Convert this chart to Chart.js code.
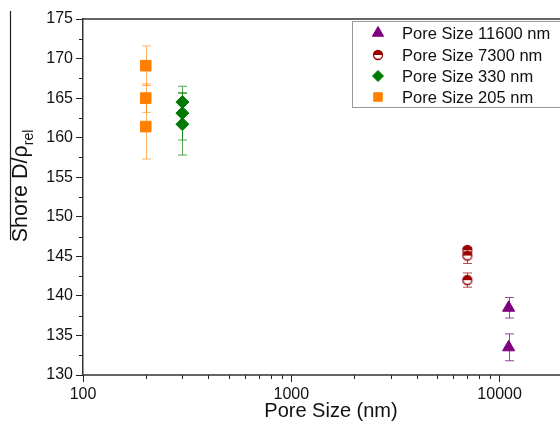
<!DOCTYPE html>
<html lang="en">
<head>
<meta charset="UTF-8">
<title>Shore D vs pore size</title>
<script src="https://cdn.jsdelivr.net/npm/chart.js@4.4.1/dist/chart.umd.min.js"></script>
<style>
  body { margin: 0; background: #fff; }
  #wrap { width: 560px; height: 432px; }
</style>
</head>
<body>
<div id="wrap"><canvas id="main_chart" width="560" height="432"></canvas></div>
<script>
    // data (x = where the marker sits on the log axis)
    const seriesLabels = ['Pore Size 11600 nm', 'Pore Size 7300 nm', 'Pore Size 330 nm', 'Pore Size 205 nm'];
    const x11600 = [11050, 11050];
    const y11600 = [138.5, 133.5];
    const e11600 = [1.3, 1.7];
    const x7300 = [7000, 7000, 7000];
    const y7300 = [145.8, 145.1, 142.0];
    const e7300 = [0.3, 1.0, 0.9];
    const x330 = [300, 300, 300];
    const y330 = [164.5, 163.1, 161.7];
    const e330 = [1.2, 3.4, 3.9];
    const x205 = [200, 200, 200];
    const y205 = [169.1, 165.0, 161.4];
    const e205 = [2.5, 1.8, 4.1];
    const xMajorTicks = [100, 1000, 10000];
    const xMinorTicks = [200, 300, 400, 500, 600, 700, 800, 900, 2000, 3000, 4000, 5000, 6000, 7000, 8000, 9000];
    const yMinorTicks = [132.5, 137.5, 142.5, 147.5, 152.5, 157.5, 162.5, 167.5, 172.5];

    const FONT = '"Liberation Sans", Arial, sans-serif';
    const TEXT = '#111';

    function halfCircle(r, color) {
        const c = document.createElement('canvas');
        const s = Math.ceil(r * 2 + 3);
        c.width = c.height = s;
        const g = c.getContext('2d');
        const m = s / 2;
        g.fillStyle = '#fff';
        g.beginPath(); g.arc(m, m, r, 0, Math.PI * 2); g.fill();
        g.fillStyle = color;
        g.beginPath(); g.arc(m, m, r, Math.PI, 0); g.closePath(); g.fill();
        g.strokeStyle = color; g.lineWidth = 1.3;
        g.beginPath(); g.arc(m, m, r, 0, Math.PI * 2); g.stroke();
        return c;
    }

    function pts(xs, ys, es) {
        return xs.map((x, i) => ({x: x, y: ys[i], e: es[i]}));
    }

    const datasets = [
        {label: seriesLabels[0], data: pts(x11600, y11600, e11600), pointStyle: 'triangle', pointRadius: 7,
            backgroundColor: '#800080', borderColor: '#800080', errColor: 'rgba(128,0,128,0.75)'},
        {label: seriesLabels[1], data: pts(x7300, y7300, e7300), pointStyle: halfCircle(4.5, '#990000'), pointRadius: 5,
            backgroundColor: '#990000', borderColor: '#990000', errColor: 'rgba(153,0,0,0.7)'},
        {label: seriesLabels[2], data: pts(x330, y330, e330), pointStyle: 'rectRot', pointRadius: 6.5,
            backgroundColor: '#007a00', borderColor: '#007a00', errColor: 'rgba(0,122,0,0.65)'},
        {label: seriesLabels[3], data: pts(x205, y205, e205), pointStyle: 'rect', pointRadius: 7.5,
            backgroundColor: '#ff7f00', borderColor: '#ff7f00', errColor: 'rgba(255,127,0,0.6)'}
    ];

    // error bars, minor ticks, frame, legend and axis titles
    const decorPlugin = {
        id: 'decor',
        beforeDatasetsDraw(chart) {
            const ctx = chart.ctx, xs = chart.scales.x, ys = chart.scales.y;
            ctx.save();
            ctx.lineWidth = 1;
            chart.data.datasets.forEach(ds => {
                ctx.strokeStyle = ds.errColor;
                ds.data.forEach(p => {
                    const px = Math.round(xs.getPixelForValue(p.x)) + 0.5;
                    const top = ys.getPixelForValue(p.y + p.e);
                    const bot = ys.getPixelForValue(p.y - p.e);
                    ctx.beginPath();
                    ctx.moveTo(px, top); ctx.lineTo(px, bot);
                    ctx.moveTo(px - 4.5, top); ctx.lineTo(px + 4.5, top);
                    ctx.moveTo(px - 4.5, bot); ctx.lineTo(px + 4.5, bot);
                    ctx.stroke();
                });
            });
            ctx.restore();
        },
        afterDraw(chart) {
            const ctx = chart.ctx, xs = chart.scales.x, ys = chart.scales.y, area = chart.chartArea;
            ctx.save();
            ctx.strokeStyle = '#222';
            ctx.lineWidth = 1;
            ctx.beginPath();
            xMinorTicks.forEach(v => {
                const px = Math.round(xs.getPixelForValue(v)) + 0.5;
                ctx.moveTo(px, area.bottom); ctx.lineTo(px, area.bottom + 4);
            });
            yMinorTicks.forEach(v => {
                const py = Math.round(ys.getPixelForValue(v)) + 0.5;
                ctx.moveTo(area.left, py); ctx.lineTo(area.left - 4, py);
            });
            ctx.stroke();
            // top and bottom frame lines, running off the right edge
            ctx.lineWidth = 1.5;
            ctx.strokeStyle = '#333';
            ctx.beginPath();
            ctx.moveTo(area.left, area.top); ctx.lineTo(560, area.top);
            ctx.moveTo(area.left, area.bottom); ctx.lineTo(560, area.bottom);
            ctx.stroke();

            // legend
            ctx.lineWidth = 1;
            ctx.strokeStyle = '#999';
            ctx.strokeRect(352.5, 21.5, 220, 86);
            const rowY = [33, 55, 76, 97];
            ctx.font = '16.5px ' + FONT;
            ctx.textBaseline = 'middle';
            ctx.textAlign = 'left';
            chart.data.datasets.forEach((ds, i) => {
                ctx.fillStyle = ds.backgroundColor;
                ctx.strokeStyle = ds.borderColor;
                const r = ds.pointStyle === 'rect' ? 6 : (ds.pointStyle === 'triangle' ? 6.5 : 5.5);
                Chart.helpers.drawPoint(ctx, {pointStyle: ds.pointStyle, radius: r, rotation: 0, borderWidth: 1}, 378, rowY[i]);
                ctx.fillStyle = TEXT;
                ctx.fillText(ds.label, 402, rowY[i] + 1);
            });

            // x title
            ctx.font = '20px ' + FONT;
            ctx.textAlign = 'center';
            ctx.textBaseline = 'middle';
            ctx.fillStyle = TEXT;
            ctx.fillText('Pore Size (nm)', 331, 411);

            // y title with subscript and overbar
            ctx.translate(27, 186);
            ctx.rotate(-Math.PI / 2);
            ctx.textAlign = 'left';
            ctx.textBaseline = 'alphabetic';
            ctx.font = '21.5px ' + FONT;
            const main = 'Shore D/\u03C1';
            const w1 = ctx.measureText(main).width;
            ctx.font = '14px ' + FONT;
            const w2 = ctx.measureText('rel').width;
            const start = -(w1 + w2) / 2;
            ctx.font = '21.5px ' + FONT;
            ctx.fillText(main, start, 0);
            ctx.font = '14px ' + FONT;
            ctx.fillText('rel', start + w1, 6);
            ctx.restore();

            ctx.save();
            ctx.strokeStyle = '#222';
            ctx.lineWidth = 1.2;
            ctx.beginPath();
            ctx.moveTo(10.5, 11); ctx.lineTo(10.5, 240);
            ctx.stroke();
            ctx.restore();
        }
    };

    const chart = new Chart(document.getElementById('main_chart').getContext('2d'), {
        type: 'scatter',
        data: {datasets: datasets},
        plugins: [decorPlugin],
        options: {
            responsive: false,
            animation: false,
            layout: {padding: {top: 19, right: 0, left: 0, bottom: 0}},
            plugins: {legend: {display: false}, tooltip: {enabled: false}},
            scales: {
                x: {
                    type: 'logarithmic',
                    min: 100,
                    max: 17750,
                    afterFit: s => { s.height = 432 - 19 - 356; },
                    afterBuildTicks: s => { s.ticks = xMajorTicks.map(v => ({value: v, major: true})); },
                    border: {display: false},
                    grid: {display: true, drawOnChartArea: false, drawTicks: true, tickLength: 7, color: '#222'},
                    ticks: {
                        color: TEXT, font: {family: FONT, size: 16}, padding: 3,
                        maxRotation: 0, autoSkip: false,
                        callback: v => String(v)
                    }
                },
                y: {
                    min: 130,
                    max: 175,
                    afterFit: s => { s.width = 83; },
                    border: {display: true, color: '#333', width: 1.5},
                    grid: {display: true, drawOnChartArea: false, drawTicks: true, tickLength: 7, color: '#222'},
                    ticks: {stepSize: 5, color: TEXT, font: {family: FONT, size: 16}, padding: 3}
                }
            }
        }
    });
</script>
</body>
</html>
